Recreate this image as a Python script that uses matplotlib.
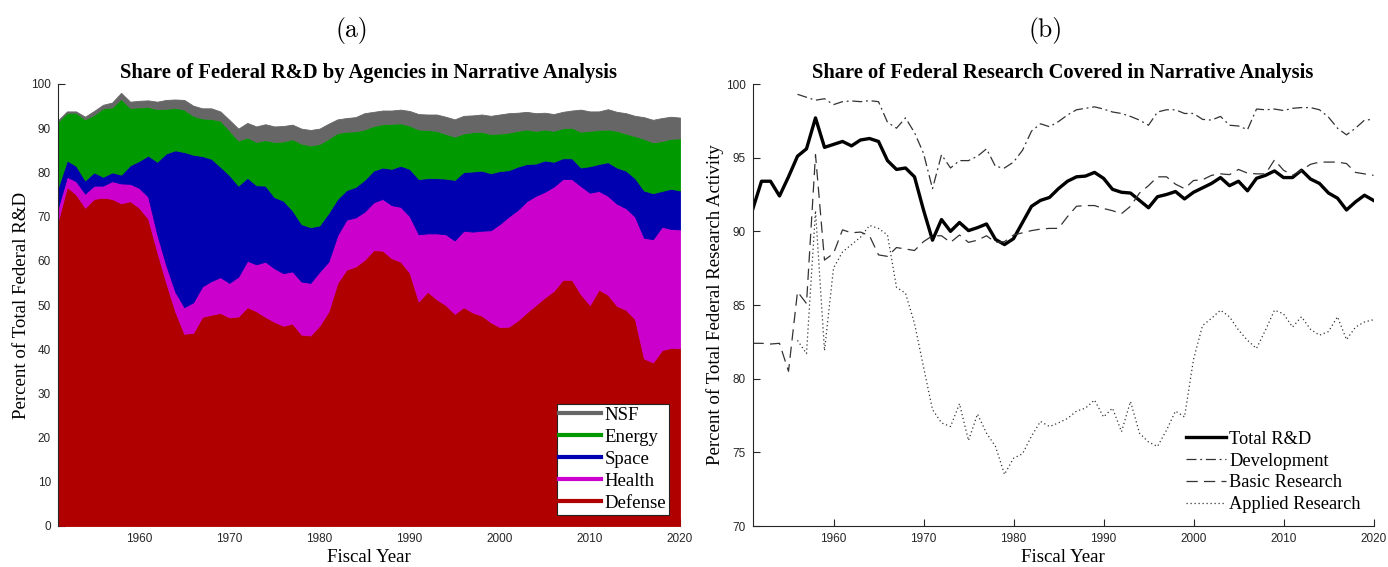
import numpy as np
import matplotlib
matplotlib.use("Agg")
import matplotlib.pyplot as plt
from matplotlib.lines import Line2D

years = np.arange(1951, 2021)

# ---- Panel (a): cumulative stacked shares (top boundary of each agency band) ----
defense_top = [69.0, 76.7, 75.0, 72.0, 74.0, 74.3, 74.0, 73.0, 73.5, 72.0,
               69.5, 62.0, 55.0, 48.5, 43.5, 43.7, 47.3, 47.8, 48.2, 47.2,
               47.4, 49.5, 48.6, 47.3, 46.2, 45.3, 45.8, 43.3, 43.1, 45.3,
               48.5, 55.0, 58.0, 58.7, 60.2, 62.4, 62.3, 60.6, 59.8, 57.3,
               50.8, 53.0, 51.3, 50.0, 48.0, 49.5, 48.3, 47.6, 46.1, 45.0,
               45.1, 46.5, 48.3, 50.0, 51.7, 53.2, 55.7, 55.7, 52.4, 50.0,
               53.5, 52.3, 49.8, 48.9, 46.8, 37.9, 37.0, 39.8, 40.3, 40.2]
health_top = [72.0, 79.0, 78.0, 75.2, 77.0, 77.0, 78.0, 77.5, 77.4, 76.5,
              74.5, 66.0, 59.0, 53.0, 49.5, 50.6, 54.2, 55.4, 56.3, 55.0,
              56.4, 60.0, 59.2, 59.8, 58.3, 57.2, 57.6, 55.3, 55.0, 57.5,
              59.8, 65.8, 69.3, 69.8, 71.1, 73.2, 74.0, 72.6, 72.2, 70.1,
              66.0, 66.2, 66.2, 66.0, 64.6, 66.8, 66.6, 66.8, 66.9, 68.3,
              70.0, 71.5, 73.5, 74.7, 75.6, 76.8, 78.5, 78.5, 76.9, 75.4,
              75.8, 74.7, 72.9, 71.9, 70.0, 65.2, 64.9, 67.7, 67.2, 67.1]
space_top = [76.6, 82.7, 81.5, 78.2, 80.0, 79.0, 80.0, 79.5, 81.6, 82.6,
             83.8, 82.4, 84.3, 85.0, 84.6, 84.0, 83.7, 83.1, 81.3, 79.4,
             77.0, 78.8, 77.1, 77.0, 74.4, 73.6, 71.4, 68.3, 67.6, 68.0,
             70.8, 74.0, 76.0, 76.7, 78.3, 80.4, 81.1, 80.8, 81.5, 80.8,
             78.5, 78.7, 78.7, 78.6, 78.3, 80.1, 80.2, 80.4, 79.8, 80.3,
             80.5, 81.3, 81.9, 82.0, 82.7, 82.4, 83.2, 83.2, 81.1, 81.4,
             81.9, 82.3, 81.1, 80.4, 78.7, 75.9, 75.3, 75.8, 76.3, 75.9]
energy_top = [91.5, 93.5, 93.5, 92.0, 93.0, 94.5, 94.7, 96.6, 94.6, 94.7,
              94.8, 94.3, 94.4, 94.6, 94.2, 92.8, 92.2, 92.1, 91.7, 89.5,
              87.2, 87.9, 86.9, 87.3, 86.9, 87.0, 87.5, 86.5, 86.1, 86.4,
              87.6, 88.9, 89.2, 89.3, 89.7, 90.5, 90.9, 91.0, 91.1, 90.6,
              89.7, 89.6, 89.4, 88.7, 88.1, 88.8, 89.1, 89.2, 88.7, 88.8,
              89.0, 89.4, 89.7, 89.4, 89.7, 89.4, 90.0, 90.1, 89.2, 89.4,
              89.6, 89.7, 89.4, 88.8, 88.2, 87.6, 86.8, 87.1, 87.6, 87.7]
nsf_top = [91.8, 93.8, 93.8, 92.6, 93.9, 95.3, 95.8, 98.0, 96.0, 96.2,
           96.3, 96.0, 96.4, 96.5, 96.4, 95.1, 94.5, 94.5, 93.8, 91.9,
           89.9, 91.2, 90.4, 90.9, 90.4, 90.5, 90.8, 89.9, 89.6, 89.9,
           91.0, 92.0, 92.3, 92.5, 93.4, 93.7, 94.0, 94.0, 94.2, 93.9,
           93.2, 93.1, 93.1, 92.6, 92.0, 92.8, 92.9, 93.1, 92.8, 93.1,
           93.4, 93.5, 93.7, 93.4, 93.5, 93.2, 93.7, 94.0, 94.2, 93.8,
           93.8, 94.3, 93.7, 93.4, 92.8, 92.5, 91.9, 92.3, 92.6, 92.4]

agencies = ["Defense", "Health", "Space", "Energy", "NSF"]
agency_colors = ["#B00000", "#CC00CC", "#0000B0", "#009900", "#666666"]

# ---- Panel (b): coverage shares ----
nan = np.nan
total_rd = [91.45, 93.4, 93.4, 92.4, 93.7, 95.1, 95.6, 97.7, 95.7, 95.9,
            96.1, 95.8, 96.2, 96.3, 96.1, 94.8, 94.2, 94.3, 93.7, 91.45,
            89.4, 90.8, 90.0, 90.6, 90.05, 90.25, 90.5, 89.45, 89.1, 89.5,
            90.6, 91.7, 92.1, 92.3, 92.9, 93.4, 93.7, 93.75, 94.0, 93.6,
            92.85, 92.65, 92.6, 92.1, 91.6, 92.35, 92.5, 92.7, 92.2, 92.65,
            92.95, 93.25, 93.65, 93.1, 93.4, 92.75, 93.6, 93.8, 94.1, 93.65,
            93.65, 94.15, 93.55, 93.25, 92.6, 92.25, 91.45, 92.0, 92.45, 92.1]
development = [nan, nan, nan, nan, nan, 99.3, 99.1, 98.9, 99.0, 98.6,
               98.8, 98.85, 98.8, 98.87, 98.8, 97.4, 97.0, 97.7, 96.7, 95.3,
               92.9, 95.2, 94.3, 94.8, 94.8, 95.1, 95.6, 94.4, 94.3, 94.7,
               95.5, 96.8, 97.3, 97.1, 97.45, 97.9, 98.25, 98.35, 98.45, 98.3,
               98.1, 98.0, 97.8, 97.55, 97.2, 98.1, 98.25, 98.25, 98.0, 98.0,
               97.6, 97.55, 97.8, 97.2, 97.15, 96.9, 98.3, 98.25, 98.3, 98.2,
               98.35, 98.4, 98.4, 98.25, 97.75, 97.0, 96.55, 97.0, 97.55, 97.6]
basic = [82.4, 82.4, 82.35, 82.4, 80.5, 85.9, 85.1, 95.2, 88.05, 88.5,
         90.1, 89.9, 89.95, 89.7, 88.4, 88.3, 88.9, 88.8, 88.7, 89.3,
         89.7, 89.7, 89.25, 89.75, 89.25, 89.4, 89.7, 89.25, 89.3, 89.75,
         89.9, 90.05, 90.15, 90.2, 90.2, 91.0, 91.7, 91.75, 91.75, 91.55,
         91.4, 91.2, 91.7, 92.6, 93.1, 93.7, 93.7, 93.2, 92.9, 93.45,
         93.5, 93.8, 93.9, 93.85, 94.2, 93.95, 93.9, 93.9, 94.85, 94.15,
         93.8, 94.15, 94.55, 94.7, 94.7, 94.7, 94.6, 94.0, 93.9, 93.8]
applied = [nan, nan, nan, nan, nan, 82.6, 81.7, 91.4, 81.9, 87.5,
           88.6, 89.1, 89.6, 90.4, 90.2, 89.75, 86.2, 85.8, 83.75, 80.8,
           77.9, 77.0, 76.75, 78.3, 75.8, 77.6, 76.3, 75.4, 73.5, 74.6,
           74.9, 76.1, 77.1, 76.75, 77.0, 77.3, 77.8, 78.0, 78.55, 77.4,
           78.0, 76.4, 78.45, 76.3, 75.7, 75.4, 76.5, 77.8, 77.4, 81.3,
           83.6, 84.1, 84.65, 84.2, 83.3, 82.6, 82.05, 83.3, 84.65, 84.4,
           83.5, 84.2, 83.35, 82.95, 83.2, 84.2, 82.65, 83.5, 83.85, 84.0]

xticks = [1960, 1970, 1980, 1990, 2000, 2010, 2020]

SERIF = ["Liberation Serif", "DejaVu Serif"]
SANS = ["Liberation Sans", "DejaVu Sans"]
TICKC = "#262626"

fig = plt.figure(figsize=(13.88, 5.67), dpi=100)
axA = fig.add_axes([58 / 1388, 41 / 567, 622 / 1388, 442 / 567])
axB = fig.add_axes([752.5 / 1388, 41 / 567, 621 / 1388, 442 / 567])

# ---------- panel (a) ----------
tops = [defense_top, health_top, space_top, energy_top, nsf_top]
lower = np.zeros(len(years))
for name, col, top in zip(agencies, agency_colors, tops):
    top = np.asarray(top)
    axA.fill_between(years, lower, top, color=col, linewidth=0.6, edgecolor=col)
    lower = top
axA.set_xlim(1951, 2020)
axA.set_ylim(0, 100)
axA.set_yticks(np.arange(0, 101, 10))
axA.set_xticks(xticks)
axA.set_axisbelow(True)
axA.spines[["top", "right", "bottom"]].set_visible(False)
axA.set_title("Share of Federal R&D by Agencies in Narrative Analysis",
              fontfamily=SERIF, fontweight="bold", fontsize=14.8, pad=4)
axA.set_ylabel("Percent of Total Federal R&D", fontfamily=SERIF, fontsize=13.6, labelpad=1)
axA.set_xlabel("Fiscal Year", fontfamily=SERIF, fontsize=13.6, labelpad=3)
handles = [Line2D([], [], color=c, lw=3) for c in agency_colors][::-1]
legA = axA.legend(handles, agencies[::-1], loc="lower right", prop={"family": SERIF, "size": 13.5},
                  frameon=True, fancybox=False, edgecolor="#222222", framealpha=1,
                  handlelength=2.2, handletextpad=0.2, labelspacing=0.26,
                  borderpad=0.15, borderaxespad=0.6)
legA.get_frame().set_linewidth(0.8)

# ---------- panel (b) ----------
line_col = "#333333"
axB.plot(years, total_rd, color="black", lw=2.4, label="Total R&D")
axB.plot(years, development, color=line_col, lw=0.9, linestyle=(0, (8, 3, 1.5, 3)), label="Development")
axB.plot(years, basic, color=line_col, lw=0.9, linestyle=(0, (9, 5)), label="Basic Research")
axB.plot(years, applied, color=line_col, lw=0.9, linestyle=(0, (1, 2.2)), label="Applied Research")
axB.set_xlim(1951, 2020)
axB.set_ylim(70, 100)
axB.set_yticks(np.arange(70, 101, 5))
axB.set_xticks(xticks)
axB.spines[["top", "right"]].set_visible(False)
axB.set_title("Share of Federal Research Covered in Narrative Analysis",
              fontfamily=SERIF, fontweight="bold", fontsize=14.8, pad=4)
axB.set_ylabel("Percent of Total Federal Research Activity", fontfamily=SERIF, fontsize=13.6, labelpad=1)
axB.set_xlabel("Fiscal Year", fontfamily=SERIF, fontsize=13.6, labelpad=3)
axB.legend(loc="lower right", prop={"family": SERIF, "size": 13.2}, frameon=False,
           handlelength=2.2, handletextpad=0.15, labelspacing=0.26,
           borderaxespad=0.3)

for ax in (axA, axB):
    for s in ax.spines.values():
        s.set_color(TICKC)
        s.set_linewidth(0.8)
    ax.tick_params(direction="in", length=5, width=0.8, color=TICKC,
                   labelcolor=TICKC, labelsize=8.5, pad=5)
    for lab in ax.get_xticklabels() + ax.get_yticklabels():
        lab.set_fontfamily(SANS)

fig.text(352 / 1388, 1 - 30 / 567, "(a)", fontfamily=["cmr10", "DejaVu Serif"], fontsize=18.5,
         ha="center", va="center")
fig.text(1046 / 1388, 1 - 30 / 567, "(b)", fontfamily=["cmr10", "DejaVu Serif"], fontsize=18.5,
         ha="center", va="center")

fig.savefig("out.png", dpi=100)
